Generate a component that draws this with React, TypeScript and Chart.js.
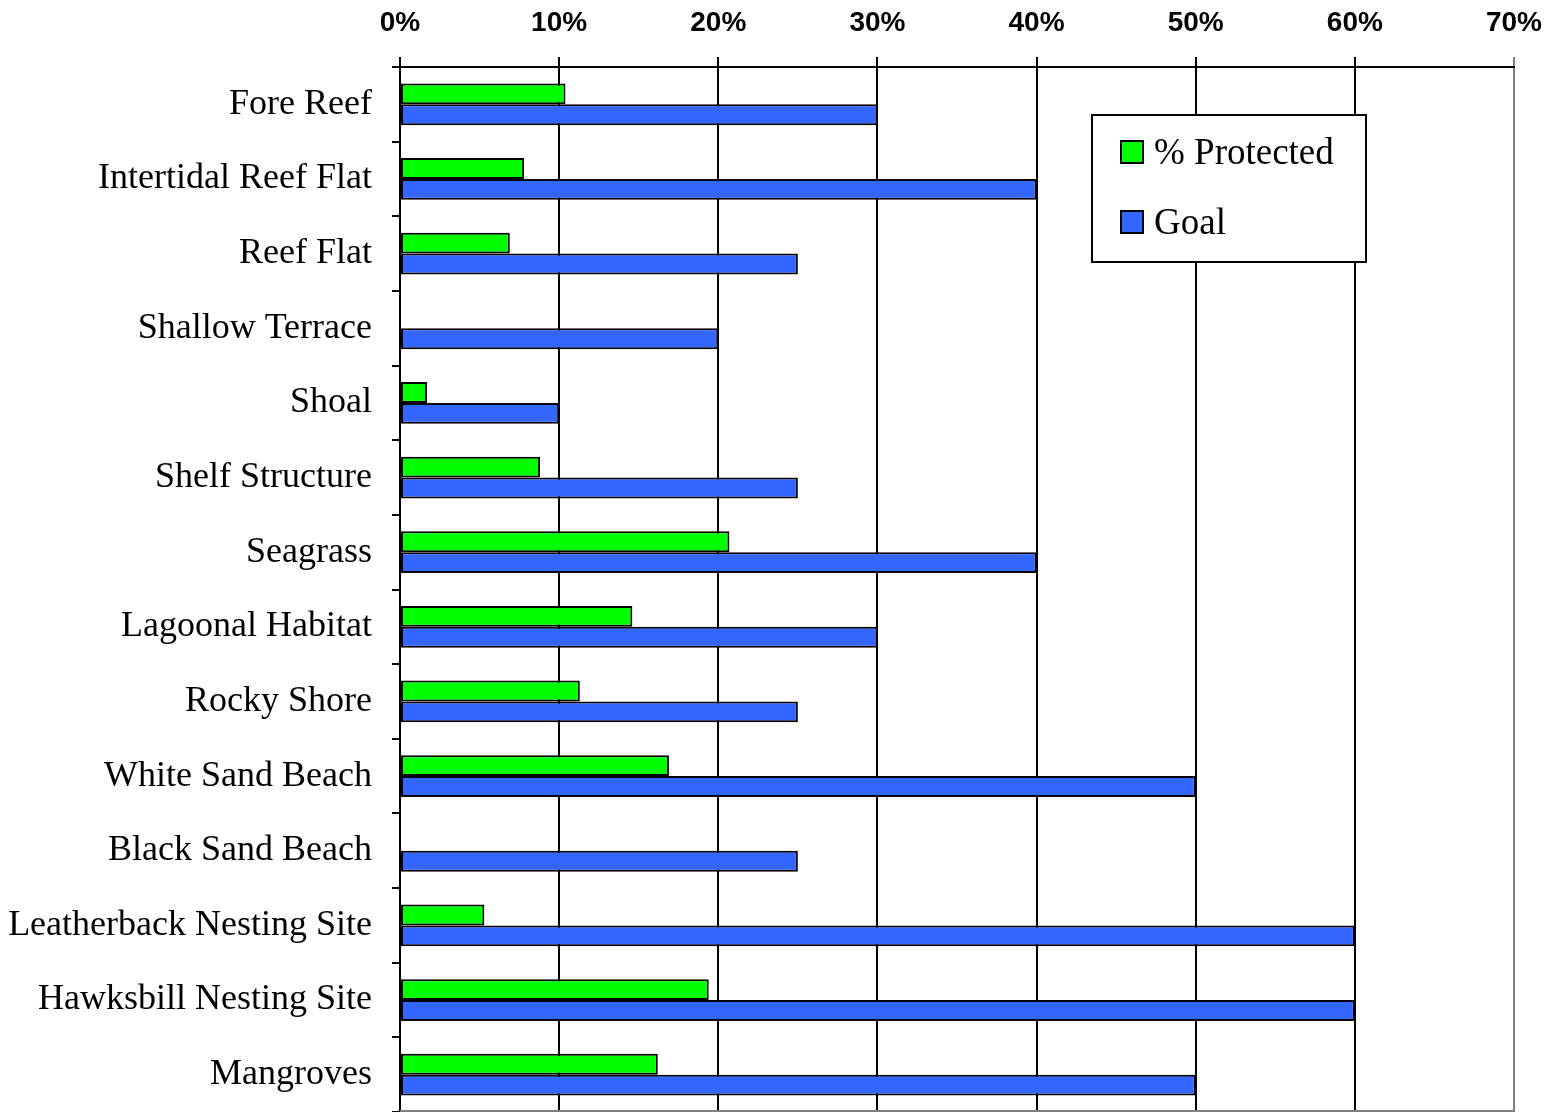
import React, { useEffect, useRef } from "react";
import { Chart, registerables } from "chart.js";

Chart.register(...registerables);

const categories = [
  "Fore Reef",
  "Intertidal Reef Flat",
  "Reef Flat",
  "Shallow Terrace",
  "Shoal",
  "Shelf Structure",
  "Seagrass",
  "Lagoonal Habitat",
  "Rocky Shore",
  "White Sand Beach",
  "Black Sand Beach",
  "Leatherback Nesting Site",
  "Hawksbill Nesting Site",
  "Mangroves",
];

const protectedPct = [10.4, 7.8, 6.9, 0, 1.7, 8.8, 20.7, 14.6, 11.3, 16.9, 0, 5.3, 19.4, 16.2];
const goalPct = [30, 40, 25, 20, 10, 25, 40, 30, 25, 50, 25, 60, 60, 50];

const seriesLabels = ["% Protected", "Goal"];
const seriesColors = ["#00FF00", "#3366FF"];

const xTicksMax = 70;
const xTickStep = 10;

const SERIF = "'Liberation Serif', 'DejaVu Serif', serif";
const SANS = "'Liberation Sans', Arial, sans-serif";

const legendPlugin = {
  id: "boxLegend",
  afterDraw(chart: any) {
    const ctx = chart.ctx;
    const x = 1092, y = 115, w = 274, h = 147;
    ctx.save();
    ctx.fillStyle = "#ffffff";
    ctx.fillRect(x, y, w, h);
    ctx.lineWidth = 2;
    ctx.strokeStyle = "#000000";
    ctx.strokeRect(x, y, w, h);
    chart.data.datasets.forEach((ds: any, i: number) => {
      const cy = 152 + i * 70;
      ctx.fillStyle = ds.backgroundColor;
      ctx.fillRect(1121, cy - 11, 22, 22);
      ctx.strokeStyle = "#000";
      ctx.lineWidth = 2;
      ctx.strokeRect(1121, cy - 11, 22, 22);
      ctx.fillStyle = "#000";
      ctx.font = `37px ${SERIF}`;
      ctx.textBaseline = "middle";
      ctx.textAlign = "left";
      ctx.fillText(ds.label, 1154, cy + 2);
    });
    ctx.restore();
  },
};

const bottomBorderPlugin = {
  id: "bottomBorder",
  afterDatasetsDraw(chart: any) {
    const { ctx, chartArea } = chart;
    ctx.save();
    ctx.strokeStyle = "#808080";
    ctx.lineWidth = 2;
    ctx.beginPath();
    ctx.moveTo(chartArea.left, chartArea.bottom - 1);
    ctx.lineTo(chartArea.right, chartArea.bottom - 1);
    ctx.stroke();
    ctx.restore();
  },
};

export default function App() {
  const ref = useRef<HTMLCanvasElement | null>(null);

  useEffect(() => {
    if (!ref.current) return;
    const chart = new Chart(ref.current, {
      type: "bar",
      data: {
        labels: categories,
        datasets: [
          {
            label: seriesLabels[0],
            data: protectedPct,
            backgroundColor: seriesColors[0],
            borderColor: "#000000",
            borderWidth: 2,
            borderSkipped: false,
            categoryPercentage: 0.56,
            barPercentage: 1.0,
          },
          {
            label: seriesLabels[1],
            data: goalPct,
            backgroundColor: seriesColors[1],
            borderColor: "#000000",
            borderWidth: 2,
            borderSkipped: false,
            categoryPercentage: 0.56,
            barPercentage: 1.0,
          },
        ],
      },
      options: {
        indexAxis: "y",
        responsive: false,
        animation: false,
        devicePixelRatio: 1,
        layout: { padding: { left: 0, right: 50, top: 0, bottom: 0 } },
        plugins: {
          legend: { display: false },
          tooltip: { enabled: false },
        },
        scales: {
          x: {
            position: "top",
            min: 0,
            max: xTicksMax,
            afterFit: (s: any) => {
              s.height = 67;
              s.paddingLeft = 0;
            },
            ticks: {
              stepSize: xTickStep,
              color: "#000",
              padding: 17,
              font: { family: SANS, size: 28, weight: "bold" },
              callback: (v: any) => `${v}%`,
            },
            grid: {
              color: (c: any) => (c.tick && c.tick.value === xTicksMax ? "#808080" : "#000000"),
              lineWidth: 2,
              tickLength: 10,
            },
            border: { display: true, color: "#000", width: 2 },
          },
          y: {
            afterFit: (s: any) => {
              s.width = 400;
              s.paddingTop = 0;
              s.paddingBottom = 0;
            },
            ticks: {
              color: "#000",
              padding: 20,
              font: { family: SERIF, size: 36 },
            },
            grid: {
              offset: true,
              drawOnChartArea: false,
              color: "#000",
              lineWidth: 2,
              tickLength: 8,
            },
            border: { display: true, color: "#000", width: 2 },
          },
        },
      } as any,
      plugins: [legendPlugin, bottomBorderPlugin],
    });
    return () => chart.destroy();
  }, []);

  return (
    <div style={{ position: "fixed", left: 0, top: 0, width: 1564, height: 1112, background: "#fff" }}>
      <canvas ref={ref} width={1564} height={1112} style={{ display: "block" }} />
    </div>
  );
}
